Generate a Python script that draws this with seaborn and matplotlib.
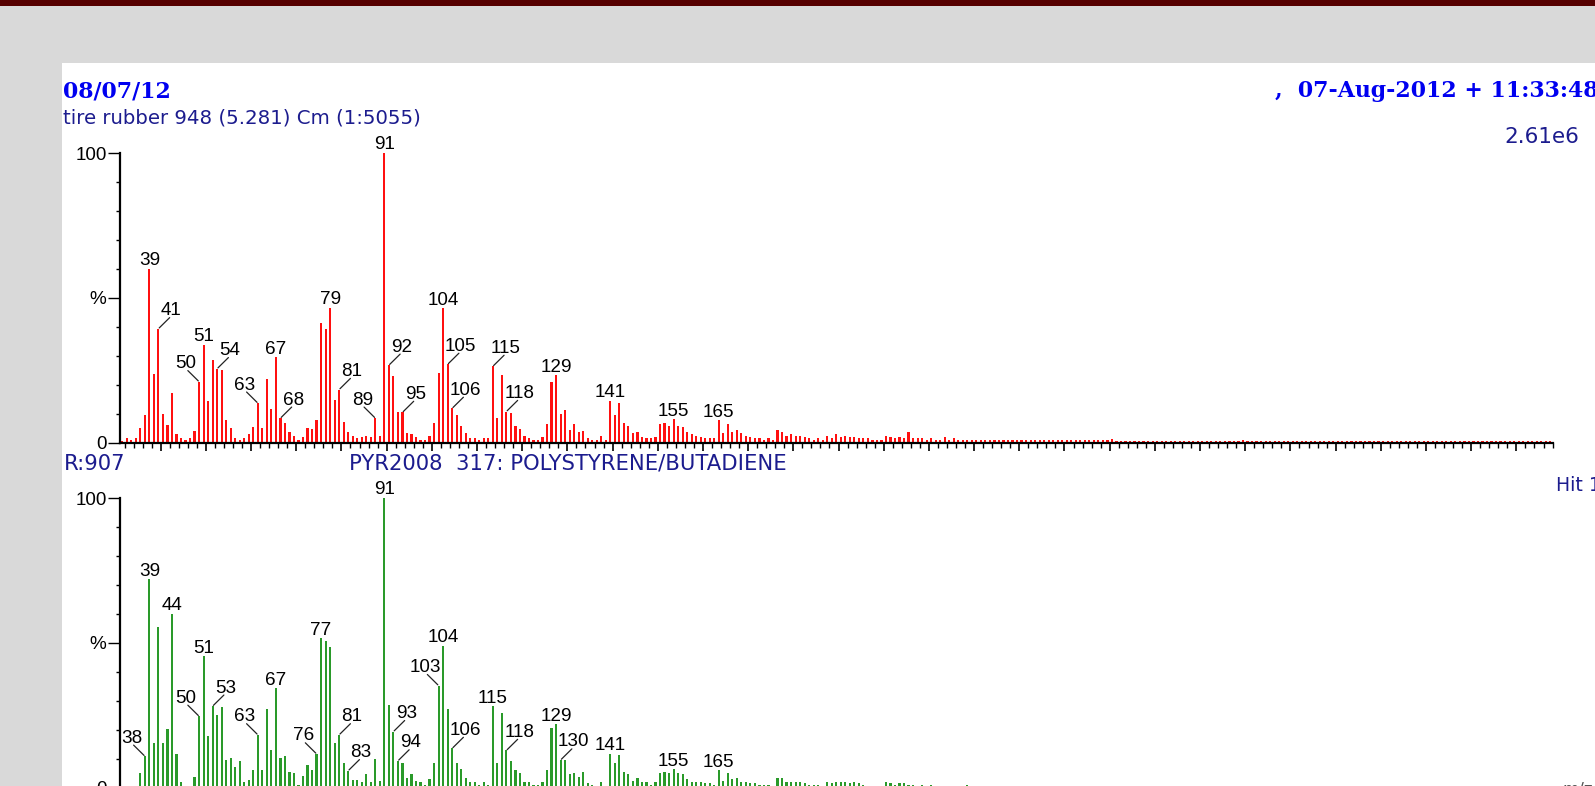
import matplotlib
matplotlib.use("Agg")
import matplotlib.pyplot as plt
import seaborn as sns
import pandas as pd
from matplotlib.patches import Rectangle
from matplotlib.ticker import FixedLocator, FixedFormatter, NullFormatter

# ---------------- data ----------------
mz_start, mz_end = 33, 349
mz = list(range(mz_start, mz_end + 1))

# sample spectrum (red), relative intensity % for m/z 33..349
top_pct = [
    0.5, 1.4, 1.0, 1.4, 5.0, 9.5, 60.0, 23.5, 39.3, 9.9,      # 33-42
    5.9, 17.0, 2.8, 1.4, 1.0, 1.5, 4.0, 21.0, 33.8, 14.4,     # 43-52
    28.6, 25.5, 24.9, 7.6, 5.0, 1.4, 1.0, 1.4, 2.8, 5.3,      # 53-62
    13.6, 5.0, 21.9, 11.6, 29.4, 8.4, 6.6, 3.6, 2.2, 1.0,     # 63-72
    1.9, 5.0, 4.6, 7.6, 41.4, 39.2, 46.5, 14.8, 18.3, 7.2,    # 73-82
    3.6, 2.2, 1.4, 1.9, 2.2, 1.9, 8.4, 2.2, 100.0, 26.7,      # 83-92
    22.8, 10.4, 10.4, 3.2, 2.8, 1.9, 1.0, 1.0, 2.2, 6.8,      # 93-102
    24.1, 46.4, 27.0, 11.8, 9.5, 5.8, 3.2, 1.5, 1.5, 1.0,     # 103-112
    1.4, 1.4, 26.3, 8.5, 23.2, 10.7, 10.2, 5.8, 4.8, 2.2,     # 113-122
    1.5, 1.0, 1.0, 1.9, 6.4, 21.0, 23.2, 9.9, 11.2, 4.3,      # 123-132
    6.4, 3.6, 4.1, 1.4, 1.0, 1.0, 2.2, 1.0, 14.3, 9.5,        # 133-142
    13.6, 6.8, 5.8, 3.2, 3.7, 1.9, 1.4, 1.4, 1.9, 6.4,        # 143-152
    6.8, 5.8, 8.0, 5.8, 5.4, 3.6, 2.8, 2.2, 1.9, 1.4,         # 153-162
    1.4, 1.4, 7.6, 3.2, 6.4, 3.6, 4.3, 3.3, 2.4, 2.0,         # 163-172
    1.5, 1.5, 1.0, 1.5, 1.0, 4.2, 3.7, 2.4, 2.9, 2.4,         # 173-182
    2.4, 2.0, 1.5, 1.0, 1.5, 1.0, 2.4, 1.5, 2.9, 2.0,         # 183-192
    2.4, 2.0, 2.0, 1.5, 1.5, 1.5, 1.0, 1.0, 1.0, 2.4,         # 193-202
    2.0, 1.5, 2.0, 1.5, 3.7, 1.5, 1.5, 1.5, 1.0, 1.5,         # 203-212
    1.0, 1.0, 2.0, 1.0, 1.5, 1.0, 1.0, 1.0, 1.0, 1.0,         # 213-222
    1.0, 1.0, 1.0, 1.0, 1.0, 1.0, 1.0, 1.0, 1.0, 1.0,         # 223-232
    1.0, 1.0, 1.0, 1.0, 1.0, 1.0, 1.0, 1.0, 1.0, 1.0,         # 233-242
    0.7, 0.7, 0.7, 0.7, 0.7, 0.7, 0.7, 0.7, 0.7, 1.1,         # 243-252
    0.5, 0.5, 0.5, 0.5, 0.5, 0.5, 0.5, 0.5, 0.5, 0.5,         # 253-262
    0.5, 0.5, 0.5, 0.5, 0.5, 0.5, 0.5, 0.5, 0.5, 0.5,         # 263-272
    0.5, 0.5, 0.5, 0.5, 0.5, 0.5, 0.5, 0.5, 1.0, 0.5,         # 273-282
    0.5, 0.5, 0.5, 0.5, 0.5, 0.5, 0.5, 0.5, 0.5, 0.5,         # 283-292
    0.5, 0.5, 0.5, 0.5, 0.5, 0.5, 0.5, 0.5, 0.5, 0.5,         # 293-302
    0.5, 0.5, 0.5, 0.5, 0.5, 0.5, 0.5, 0.5, 0.5, 0.5,         # 303-312
    0.5, 0.5, 0.5, 0.5, 0.5, 0.5, 0.5, 0.5, 0.5, 0.5,         # 313-322
    0.5, 0.5, 0.5, 0.5, 0.5, 0.5, 0.5, 0.5, 0.5, 0.5,         # 323-332
    0.5, 0.5, 0.5, 0.5, 0.5, 0.5, 0.5, 0.5, 0.5, 0.5,         # 333-342
    0.5, 0.5, 0.5, 0.5, 0.5, 0.5, 0.5,                        # 343-349
]

# library spectrum (green), relative intensity % for m/z 33..349
bot_pct = [
    0, 0, 0, 0, 5.0, 10.8, 71.9, 15.2, 55.6, 15.2,            # 33-42
    20.1, 60.0, 11.5, 1.8, 0, 0, 3.6, 24.6, 45.3, 17.9,       # 43-52
    28.1, 25.0, 27.7, 9.5, 10.3, 7.2, 9.0, 1.8, 2.7, 6.2,     # 53-62
    18.2, 6.2, 27.2, 13.0, 34.3, 10.3, 10.8, 5.5, 5.0, 0.9,   # 63-72
    4.1, 7.6, 6.2, 11.6, 51.6, 50.7, 48.4, 15.2, 18.2, 8.5,   # 73-82
    5.8, 2.7, 2.7, 1.8, 4.5, 1.8, 9.8, 2.2, 100.0, 28.4,      # 83-92
    19.3, 9.2, 8.5, 3.2, 4.5, 2.2, 1.8, 0.8, 3.1, 8.5,        # 93-102
    35.2, 48.9, 27.2, 13.5, 8.5, 6.3, 3.2, 1.8, 1.8, 1.0,     # 103-112
    1.8, 1.0, 28.0, 8.5, 25.8, 12.8, 9.0, 5.9, 4.9, 1.8,      # 113-122
    1.8, 1.0, 1.0, 1.8, 5.9, 20.5, 21.8, 9.5, 9.5, 4.6,       # 123-132
    5.1, 3.7, 5.4, 1.5, 1.0, 0.5, 1.9, 0.5, 11.6, 8.5,        # 133-142
    11.2, 5.4, 4.6, 2.3, 3.2, 1.8, 1.8, 1.0, 1.8, 4.9,        # 143-152
    5.4, 4.9, 6.3, 4.9, 4.6, 2.8, 1.9, 1.8, 1.8, 1.5,         # 153-162
    1.5, 1.0, 5.9, 2.3, 5.1, 2.8, 3.2, 2.0, 2.0, 1.5,         # 163-172
    1.5, 1.0, 1.0, 1.0, 0.6, 3.3, 3.3, 2.0, 2.0, 2.0,         # 173-182
    2.0, 1.5, 1.0, 1.0, 1.0, 0.6, 2.0, 1.5, 2.0, 2.0,         # 183-192
    2.0, 1.5, 2.0, 1.5, 1.0, 0.6, 0.6, 0.6, 0.6, 2.0,         # 193-202
    1.5, 1.0, 1.5, 1.5, 1.0, 1.0, 0.6, 1.0, 0.6, 1.0,         # 203-212
    0.6, 0.6, 0.6, 0.6, 0.6, 0.6, 0.6, 1.0, 0.6, 0.6,         # 213-222
    0.6, 0.6, 0.6, 0, 0, 0.5, 0, 0.5, 0, 0.5,                 # 223-232
    0, 0.5, 0, 0.5, 0, 0.5, 0, 0, 0, 0,                       # 233-242
    0, 0, 0, 0, 0, 0.5, 0, 0.5, 0, 0.5,                       # 243-252
    0.5, 0, 0, 0, 0, 0, 0, 0, 0, 0.5,                         # 253-262
    0, 0, 0, 0.5, 0, 0, 0, 0, 0, 0,                           # 263-272
    0, 0, 0, 0, 0, 0, 0, 0, 0, 0,                             # 273-282
    0, 0, 0, 0, 0, 0, 0, 0, 0, 0,                             # 283-292
    0, 0, 0, 0, 0, 0, 0, 0, 0, 0,                             # 293-302
    0, 0, 0, 0, 0, 0, 0, 0, 0, 0,                             # 303-312
    0, 0, 0, 0, 0, 0, 0, 0, 0, 0,                             # 313-322
    0, 0, 0, 0, 0, 0, 0, 0, 0, 0,                             # 323-332
    0, 0, 0, 0, 0, 0, 0, 0, 0, 0,                             # 333-342
    0, 0, 0, 0, 0, 0, 0,                                      # 343-349
]

# labelled peaks: side 0 = directly above, +1 = leader to right, -1 = leader to left
top_labels = [39, 41, 50, 51, 54, 63, 67, 68, 79, 81, 89, 91, 92, 95,
              104, 105, 106, 115, 118, 129, 141, 155, 165]
top_sides = [0, 1, -1, 0, 1, -1, 0, 1, 0, 1, -1, 0, 1, 1,
             0, 1, 1, 1, 1, 0, 0, 0, 0]
bot_labels = [38, 39, 44, 50, 51, 53, 63, 67, 76, 77, 81, 83, 91, 93, 94,
              103, 104, 106, 115, 118, 129, 130, 141, 155, 165]
bot_sides = [-1, 0, 0, -1, 0, 1, -1, 0, -1, 0, 1, 1, 0, 1, 1,
             -1, 0, 1, 0, 1, 0, 1, 0, 0, 0]

header_left = "08/07/12"
header_right = ",  07-Aug-2012 + 11:33:48"
sample_title = "tire rubber 948 (5.281) Cm (1:5055)"
sample_scale = "2.61e6"
lib_left = "R:907"
lib_title = "PYR2008  317: POLYSTYRENE/BUTADIENE"
lib_hit = "Hit 1"
y_tick_vals = [0, 50, 100]
y_tick_text = ["0", "%", "100"]

assert len(top_pct) == len(mz) and len(bot_pct) == len(mz)

# ---------------- layout helpers ----------------
W, H = 1595, 786
def fx(px):
    return px / W
def fy(py):
    return 1 - py / H

NAVY = "#1c1c8e"
BLUE = "#0000f0"
LABEL_FONT = "Liberation Sans"
LABEL_SIZE = 13.6

fig = plt.figure(figsize=(W / 100, H / 100), dpi=100)
fig.patch.set_facecolor("#d9d9d9")
fig.add_artist(Rectangle((fx(62), 0), 1, fy(63), transform=fig.transFigure,
                         facecolor="white", edgecolor="none", zorder=-5))
fig.add_artist(Rectangle((0, fy(6)), 1, 6 / H, transform=fig.transFigure,
                         facecolor="#560000", edgecolor="none", zorder=-4))

x_left, x_right = 120, 1553
ax_top = fig.add_axes([fx(x_left), fy(442.5), (x_right - x_left) / W, (442.5 - 153) / H])
ax_bot = fig.add_axes([fx(x_left), fy(787.5), (x_right - x_left) / W, (787.5 - 498) / H])

df_top = pd.DataFrame({"mz": mz, "pct": top_pct})
df_bot = pd.DataFrame({"mz": mz, "pct": bot_pct})

sns.barplot(data=df_top, x="mz", y="pct", native_scale=True, width=0.48,
            color="#ff1010", saturation=1, linewidth=0, errorbar=None, ax=ax_top)
sns.barplot(data=df_bot, x="mz", y="pct", native_scale=True, width=0.48,
            color="#2a9a2a", saturation=1, linewidth=0, errorbar=None, ax=ax_bot)

major_x = [41.5 + 10 * k for k in range(31)]
minor_x = [33.5 + 2 * k for k in range(159)]

for ax in (ax_top, ax_bot):
    ax.set_facecolor("none")
    ax.set_xlim(32.5, 349.6)
    ax.set_ylim(0, 100)
    ax.set_xlabel("")
    ax.set_ylabel("")
    for s in ("top", "right"):
        ax.spines[s].set_visible(False)
    for s in ("left", "bottom"):
        ax.spines[s].set_linewidth(1.6)
        ax.spines[s].set_color("black")
    ax.xaxis.set_major_locator(FixedLocator(major_x))
    ax.xaxis.set_minor_locator(FixedLocator(minor_x))
    ax.xaxis.set_major_formatter(NullFormatter())
    ax.xaxis.set_minor_formatter(NullFormatter())
    ax.yaxis.set_major_locator(FixedLocator(y_tick_vals))
    ax.yaxis.set_major_formatter(FixedFormatter(y_tick_text))
    ax.yaxis.set_minor_locator(FixedLocator([10, 20, 30, 40, 60, 70, 80, 90]))
    ax.tick_params(axis="x", which="major", direction="out", length=5.4, width=1.2, color="black")
    ax.tick_params(axis="x", which="minor", direction="out", length=3.4, width=1.0, color="black")
    ax.tick_params(axis="y", which="major", direction="out", length=8.5, width=1.0,
                   pad=1.2, labelsize=LABEL_SIZE, labelcolor="black")
    ax.tick_params(axis="y", which="minor", direction="out", length=2.6, width=1.0)
    for lab in ax.get_yticklabels():
        lab.set_fontfamily(LABEL_FONT)


def label_peaks(ax, pcts, labels, sides):
    lookup = dict(zip(mz, pcts))
    for m, s in zip(labels, sides):
        h = lookup[m]
        if s == 0:
            ax.annotate(str(m), xy=(m, h), xytext=(0, 2.6), textcoords="offset points",
                        ha="center", va="baseline", fontsize=LABEL_SIZE, family=LABEL_FONT,
                        annotation_clip=False)
        else:
            ax.annotate("", xy=(m, h), xytext=(s * 8.1, 8.0), textcoords="offset points",
                        arrowprops=dict(arrowstyle="-", lw=0.9, color="#222222",
                                        shrinkA=0, shrinkB=0.8),
                        annotation_clip=False)
            ax.annotate(str(m), xy=(m, h), xytext=(s * 9.3, 9.8), textcoords="offset points",
                        ha="center", va="baseline", fontsize=LABEL_SIZE, family=LABEL_FONT,
                        annotation_clip=False)


label_peaks(ax_top, top_pct, top_labels, top_sides)
label_peaks(ax_bot, bot_pct, bot_labels, bot_sides)

# ---------------- header texts ----------------
serif_kw = dict(family="DejaVu Serif", weight="bold", fontsize=15.8, color=BLUE, va="center")
fig.text(fx(63), fy(91), header_left, ha="left", **serif_kw)
fig.text(fx(1275), fy(91), header_right, ha="left", **serif_kw)

sans_kw = dict(family="DejaVu Sans", color=NAVY, va="center")
fig.text(fx(63), fy(118), sample_title, ha="left", fontsize=14.2, **sans_kw)
fig.text(fx(1504), fy(137), sample_scale, ha="left", fontsize=15.5, **sans_kw)
fig.text(fx(64), fy(464), lib_left, ha="left", fontsize=15.2, **sans_kw)
fig.text(fx(349), fy(464), lib_title, ha="left", fontsize=15.2, **sans_kw)
fig.text(fx(1556), fy(485), lib_hit, ha="left", fontsize=13.6, **sans_kw)
fig.text(fx(1562), fy(781), "m/z", ha="left", va="top", family="DejaVu Sans",
         fontsize=12, color="#555555")

fig.savefig("out.png", dpi=100)
